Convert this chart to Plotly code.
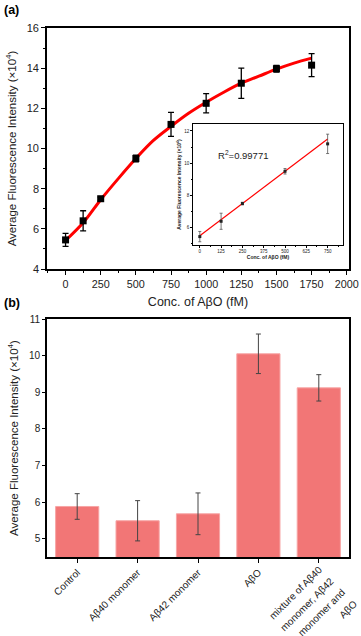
import plotly.graph_objects as go

# panel (a): concentration series
conc = [0, 125, 250, 500, 750, 1000, 1250, 1500, 1750]
intensity = [5.45, 6.4, 7.5, 9.5, 11.2, 12.25, 13.25, 13.97, 14.15]
intensity_err = [0.32, 0.5, 0.08, 0.17, 0.6, 0.48, 0.75, 0.17, 0.57]

# fitted curve
curve_x = [0, 125, 250, 375, 500, 625, 750, 875, 1000, 1125, 1250, 1375, 1500, 1625, 1750]
curve_y = [5.42, 6.3, 7.45, 8.5, 9.5, 10.4, 11.1, 11.75, 12.3, 12.8, 13.25, 13.6, 13.95, 14.25, 14.5]

# inset: linear range
inset_x = [0, 125, 250, 500, 750]
inset_y = [5.45, 6.4, 7.5, 9.5, 11.2]
inset_err = [0.32, 0.5, 0.08, 0.17, 0.6]
inset_fit_x = [0, 750]
inset_fit_y = [5.5, 11.5]
r2_text = "R<sup>2</sup>=0.99771"

# panel (b): selectivity
groups = ["Control", "Aβ40 monomer", "Aβ42 monomer", "AβO",
          "mixture of Aβ40<br>monomer, Aβ42<br>monomer and<br>AβO"]
group_vals = [5.88, 5.49, 5.68, 10.05, 9.12]
group_err = [0.35, 0.55, 0.57, 0.54, 0.36]

FONT = "Liberation Sans, Arial, sans-serif"
YTITLE = "Average Fluorescence Intensity (×10<sup>4</sup>)"

W, H = 361, 636
ML, MR = 47, 12
plot_w = W - ML - MR


def px_to_paper(x, y):
    # pixel position in the picture -> paper coords
    return (x - ML) / plot_w, 1 - y / H


fig = go.Figure()

fig.add_trace(go.Scatter(
    x=curve_x, y=curve_y, mode="lines", line=dict(color="#ff0000", width=3, shape="spline"),
    xaxis="x", yaxis="y", showlegend=False, hoverinfo="skip"))
fig.add_trace(go.Scatter(
    x=conc, y=intensity, mode="markers",
    marker=dict(symbol="square", size=7, color="black"),
    error_y=dict(type="data", array=intensity_err, color="black", thickness=1.3, width=3),
    xaxis="x", yaxis="y", showlegend=False))

fig.add_trace(go.Scatter(
    x=inset_fit_x, y=inset_fit_y, mode="lines", line=dict(color="#ff0000", width=1.2),
    xaxis="x2", yaxis="y2", showlegend=False, hoverinfo="skip"))
fig.add_trace(go.Scatter(
    x=inset_x, y=inset_y, mode="markers",
    marker=dict(symbol="square", size=3, color="#222"),
    error_y=dict(type="data", array=inset_err, color="#555", thickness=0.8, width=1.5),
    xaxis="x2", yaxis="y2", showlegend=False))

fig.add_trace(go.Bar(
    x=list(range(len(groups))), y=group_vals,
    marker=dict(color="#f27676", line=dict(color="#f7a5a5", width=1)),
    error_y=dict(type="data", array=group_err, color="#444", thickness=1, width=2.5),
    xaxis="x3", yaxis="y3", showlegend=False))

axis_common = dict(showline=True, linecolor="black", mirror=True, ticks="outside",
                   tickcolor="black", showgrid=False, zeroline=False, automargin=False)

# the long last label is placed by hand below, like the reference
ticktext = groups[:-1] + [""]

fig.update_layout(
    width=W, height=H,
    margin=dict(l=ML, r=MR, t=0, b=0, autoexpand=False),
    paper_bgcolor="white", plot_bgcolor="white",
    font=dict(family=FONT, color="#222", size=11),
    bargap=0.285,
    xaxis=dict(**axis_common, domain=[0, 1], anchor="y", range=[-132, 2016],
               tickvals=[0, 250, 500, 750, 1000, 1250, 1500, 1750, 2000],
               linewidth=1.6, ticklen=4, tickwidth=1.3, tickfont=dict(size=10.8),
               minor=dict(ticks="outside", dtick=125, tick0=0, ticklen=2.5, tickcolor="black"),
               title=dict(text="Conc. of AβO (fM)", font=dict(size=12.5), standoff=8)),
    yaxis=dict(**axis_common, domain=[0.577, 0.956], anchor="x", range=[4, 16],
               dtick=2, linewidth=1.6, ticklen=4, tickwidth=1.3, tickfont=dict(size=11),
               minor=dict(ticks="outside", dtick=1, tick0=0, ticklen=2.5, tickcolor="black"),
               title=dict(text=YTITLE, font=dict(size=11.5), standoff=8)),
    xaxis2=dict(**axis_common, domain=[0.4834, 0.98], anchor="y2", range=[-40, 840],
                tickvals=[0, 125, 250, 375, 500, 625, 750], linewidth=0.8, ticklen=2,
                tickwidth=0.6, tickfont=dict(size=4.5),
                minor=dict(ticks="outside", dtick=62.5, tick0=0, ticklen=1, tickcolor="black"),
                title=dict(text="<b>Conc. of AβO (fM)</b>", font=dict(size=5), standoff=2)),
    yaxis2=dict(**axis_common, domain=[0.6148, 0.805], anchor="x2", range=[4.93, 12.43],
                dtick=2, linewidth=0.8, ticklen=2, tickwidth=0.6, tickfont=dict(size=4.5),
                minor=dict(ticks="outside", dtick=1, tick0=0, ticklen=1, tickcolor="black"),
                title=dict(text="<b>" + YTITLE + "</b>", font=dict(size=5), standoff=2)),
    xaxis3=dict(**axis_common, domain=[0, 1], anchor="y3", range=[-0.5, 4.5],
                tickvals=list(range(len(groups))), ticktext=ticktext,
                linewidth=1.6, ticklen=4, tickwidth=1, tickangle=-45, tickfont=dict(size=10)),
    yaxis3=dict(**axis_common, domain=[0.1242, 0.4984], anchor="x3", range=[4.5, 11],
                dtick=1, linewidth=1.6, ticklen=3, tickwidth=1, tickfont=dict(size=10),
                title=dict(text=YTITLE, font=dict(size=11.5), standoff=8)),
)

ax, ay = px_to_paper(2, 10)
bx, by = px_to_paper(2, 303)
rx, ry = px_to_paper(243, 155)
fig.add_annotation(text="<b>(a)</b>", x=ax, y=ay, xref="paper", yref="paper", showarrow=False,
                   xanchor="left", yanchor="middle", font=dict(size=12.5, color="black"))
fig.add_annotation(text="<b>(b)</b>", x=bx, y=by, xref="paper", yref="paper", showarrow=False,
                   xanchor="left", yanchor="middle", font=dict(size=12.5, color="black"))
fig.add_annotation(text=r2_text, x=rx, y=ry, xref="paper", yref="paper", showarrow=False,
                   xanchor="center", yanchor="middle", font=dict(size=9.5, color="#222"))

# last category label: one rotated line at a time, right ends stepping down-right
for i, line in enumerate(groups[-1].split("<br>")):
    end_x, end_y = 323 + 11.4 * i, 566 + 11.4 * i
    lx, ly = px_to_paper(end_x + 4.5, end_y - 4.5)
    fig.add_annotation(text=line, x=lx, y=ly, xref="paper", yref="paper", showarrow=False,
                       xanchor="right", yanchor="top", textangle=-45,
                       font=dict(size=10, color="#222"))

# drop the default 8px body margin so the figure sits at the window corner
fig.write_html("out.html", config={"displayModeBar": False},
               post_script="document.body.style.margin='0';")
